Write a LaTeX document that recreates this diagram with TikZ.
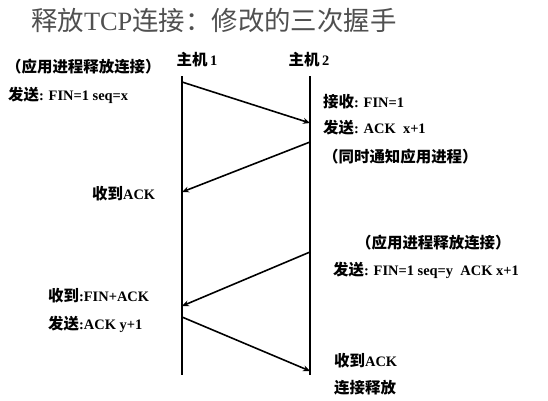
\documentclass[tikz,border=0pt]{standalone}
\usepackage{fontspec}
\setmainfont{Liberation Serif}
\newfontfamily\cjk{Noto Sans CJK SC}
\newfontfamily\cjkb{Noto Sans CJK SC Bold}
\usetikzlibrary{arrows.meta}
\definecolor{titlegray}{RGB}{80,80,80}
\tikzset{
  lifeline/.style={line width=1.8pt},
  msg/.style={line width=1.6pt,-{Stealth[length=7pt,width=6pt]}},
  lbl/.style={anchor=west,inner sep=0pt,font=\fontsize{14.5}{16}\selectfont\bfseries},
}
\newcommand{\zh}[1]{{\fontsize{15.5}{16}\selectfont\cjkb #1}}
\begin{document}
\begin{tikzpicture}[x=1bp,y=-1bp]
\useasboundingbox[fill=white] (0,0) rectangle (548,400);
\node[anchor=west,inner sep=0pt,text=titlegray,font=\fontsize{26.5}{28}\selectfont] (title) at (31,20)
  {{\cjk 释放}TCP{\cjk 连接：修改的三次握手}};
% hosts
\node[lbl,anchor=center] (h1) at (197,60) {\zh{主机}\,1};
\node[lbl,anchor=center] (h2) at (309,60) {\zh{主机}\,2};
\coordinate (a1) at (182,76);
\coordinate (a2) at (182,375);
\coordinate (b1) at (310,76);
\coordinate (b2) at (310,375);
\draw[lifeline] (a1) -- (a2);
\draw[lifeline] (b1) -- (b2);
% message endpoints
\coordinate (m1s) at (182,82);
\coordinate (m1e) at (310,123);
\coordinate (m2s) at (310,142);
\coordinate (m2e) at (182,192);
\coordinate (m3s) at (310,252);
\coordinate (m3e) at (182,306);
\coordinate (m4s) at (182,317);
\coordinate (m4e) at (310,371);
\draw[msg] (m1s) -- (m1e);
\draw[msg] (m2s) -- (m2e);
\draw[msg] (m3s) -- (m3e);
\draw[msg] (m4s) -- (m4e);
% labels
\node[lbl] (t1) at (6,67) {\zh{（应用进程释放连接）}};
\node[lbl] (t2) at (8,95) {\zh{发送}: FIN=1 seq=x};
\node[lbl] (t3) at (323,102) {\zh{接收}: FIN=1};
\node[lbl] (t4) at (323,128) {\zh{发送}: ACK\ \ x+1};
\node[lbl] (t5) at (323,157) {\zh{（同时通知应用进程）}};
\node[lbl] (t6) at (92,194) {\zh{收到}ACK};
\node[lbl] (t7) at (356,243) {\zh{（应用进程释放连接）}};
\node[lbl] (t8) at (333,270) {\zh{发送}: FIN=1 seq=y\ \ ACK x+1};
\node[lbl] (t9) at (48,296) {\zh{收到}:FIN+ACK};
\node[lbl] (t10) at (48,324) {\zh{发送}:ACK y+1};
\node[lbl] (t11) at (334,361) {\zh{收到}ACK};
\node[lbl] (t12) at (334,388) {\zh{连接释放}};
\end{tikzpicture}
\end{document}
